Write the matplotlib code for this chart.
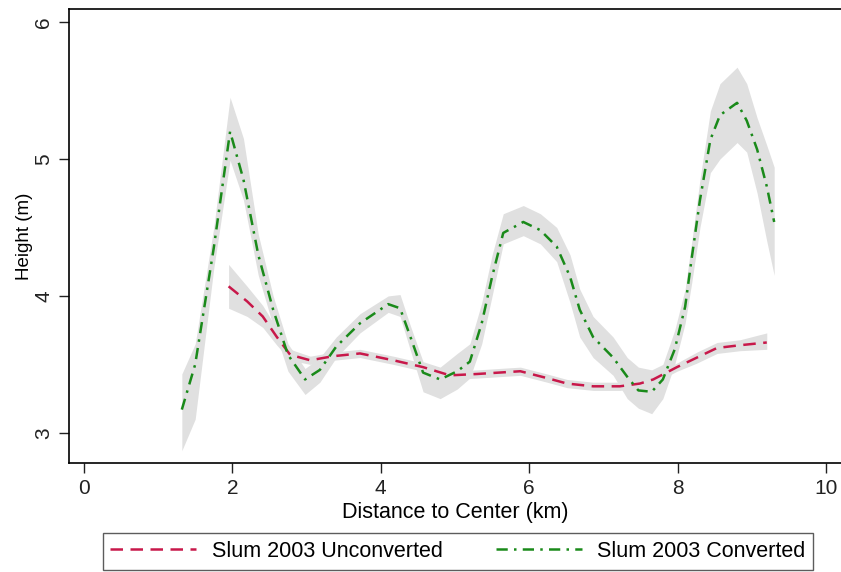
import matplotlib
matplotlib.use('Agg')
import matplotlib.pyplot as plt

plt.rcParams['font.family'] = ['Liberation Sans', 'DejaVu Sans']

# Slum 2003 Unconverted: distance (km), fitted height (m), 95% CI
unconv_x = [1.95, 2.20, 2.41, 2.60, 2.78, 3.05, 3.36, 3.72, 4.17, 4.57, 4.93,
            5.30, 5.88, 6.24, 6.51, 6.86, 7.22, 7.49, 7.67, 7.99, 8.26, 8.53,
            8.84, 9.20]
unconv_y = [4.07, 3.96, 3.85, 3.70, 3.57, 3.53, 3.56, 3.58, 3.53, 3.48, 3.42,
            3.43, 3.45, 3.40, 3.36, 3.34, 3.34, 3.36, 3.39, 3.48, 3.55, 3.62,
            3.64, 3.66]
unconv_lo = [3.91, 3.85, 3.77, 3.64, 3.53, 3.50, 3.53, 3.55, 3.50, 3.45, 3.39,
             3.40, 3.42, 3.37, 3.33, 3.31, 3.31, 3.33, 3.36, 3.45, 3.51, 3.58,
             3.60, 3.61]
unconv_hi = [4.23, 4.07, 3.93, 3.76, 3.61, 3.56, 3.59, 3.61, 3.56, 3.51, 3.45,
             3.46, 3.48, 3.43, 3.39, 3.37, 3.37, 3.39, 3.42, 3.51, 3.59, 3.66,
             3.68, 3.73]

# Slum 2003 Converted
conv_x = [1.32, 1.50, 1.75, 1.97, 2.15, 2.35, 2.55, 2.75, 2.98, 3.18, 3.40,
          3.72, 4.10, 4.26, 4.40, 4.57, 4.80, 5.03, 5.20, 5.36, 5.50, 5.65,
          5.92, 6.15, 6.37, 6.55, 6.68, 6.86, 7.13, 7.32, 7.47, 7.65, 7.80,
          7.96, 8.10, 8.19, 8.30, 8.44, 8.57, 8.80, 8.93, 9.07, 9.20, 9.30]
conv_y = [3.17, 3.50, 4.35, 5.20, 4.85, 4.30, 3.90, 3.57, 3.39, 3.46, 3.63,
          3.80, 3.94, 3.91, 3.70, 3.44, 3.39, 3.45, 3.52, 3.80, 4.14, 4.46,
          4.54, 4.48, 4.36, 4.14, 3.90, 3.70, 3.55, 3.41, 3.31, 3.30, 3.39,
          3.61, 3.92, 4.28, 4.70, 5.14, 5.32, 5.41, 5.28, 5.07, 4.80, 4.54]
conv_lo = [2.87, 3.10, 4.20, 4.99, 4.70, 4.15, 3.78, 3.45, 3.28, 3.37, 3.55,
           3.73, 3.88, 3.85, 3.60, 3.30, 3.25, 3.32, 3.40, 3.65, 4.00, 4.38,
           4.44, 4.38, 4.25, 3.95, 3.70, 3.55, 3.42, 3.25, 3.18, 3.14, 3.25,
           3.50, 3.80, 4.10, 4.50, 4.90, 5.00, 5.12, 5.05, 4.75, 4.40, 4.15]
conv_hi = [3.43, 3.65, 4.50, 5.45, 5.15, 4.45, 4.00, 3.65, 3.47, 3.55, 3.70,
           3.87, 4.00, 4.01, 3.78, 3.52, 3.48, 3.58, 3.65, 3.95, 4.30, 4.60,
           4.66, 4.60, 4.50, 4.30, 4.05, 3.85, 3.70, 3.55, 3.48, 3.46, 3.50,
           3.75, 4.05, 4.40, 4.85, 5.35, 5.55, 5.67, 5.55, 5.30, 5.10, 4.94]

x_ticks = [0, 2, 4, 6, 8, 10]
y_ticks = [3, 4, 5, 6]

fig = plt.figure(figsize=(8.41, 5.72), dpi=100)
ax = fig.add_axes([69 / 841, 1 - 463 / 572, 772 / 841, 454 / 572])

band = '#e0e0e0'
ax.fill_between(unconv_x, unconv_lo, unconv_hi, color=band, lw=0, zorder=1)
ax.fill_between(conv_x, conv_lo, conv_hi, color=band, lw=0, zorder=1)

ax.plot(unconv_x, unconv_y, color='#c8184a', lw=1.8, dashes=(5, 3),
        label='Slum 2003 Unconverted', zorder=3)
ax.plot(conv_x, conv_y, color='#1a8a1a', lw=1.8, dashes=(4.5, 2.5, 1, 2.5),
        label='Slum 2003 Converted', zorder=3)

ax.set_xlim(-0.2, 10.2)
ax.set_ylim(2.78, 6.095)
ax.set_xticks(x_ticks)
ax.set_yticks(y_ticks)
ax.tick_params(axis='both', labelsize=15, length=7, width=1, pad=4.5,
               colors='#222222')
plt.setp(ax.get_yticklabels(), rotation=90, va='center')
ax.spines['right'].set_visible(False)
for s in ['left', 'bottom', 'top']:
    ax.spines[s].set_linewidth(1.2)

ax.set_xlabel('Distance to Center (km)', fontsize=15.5, labelpad=3)
ax.set_ylabel('Height (m)', fontsize=13.5, labelpad=1)

leg = fig.legend(loc='center', bbox_to_anchor=(458 / 841, 1 - 551.5 / 572),
                 ncol=2, fontsize=15.5, frameon=True, fancybox=False,
                 edgecolor='#333333', handlelength=4.0, handletextpad=0.7,
                 columnspacing=2.5, borderpad=0.35)
leg.get_frame().set_linewidth(1)

fig.savefig('out.png', dpi=100)
